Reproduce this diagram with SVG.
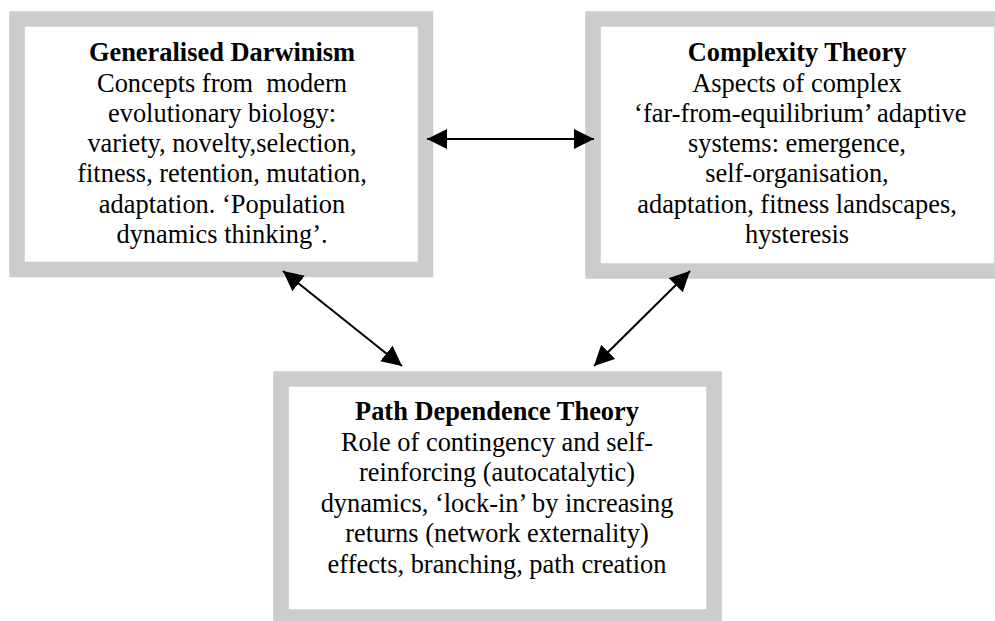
<svg xmlns="http://www.w3.org/2000/svg" width="995" height="621" viewBox="0 0 995 621">
<style>
.box{fill:#ffffff;stroke:#cccccc;stroke-width:15.5}
text{font-family:"Liberation Serif","Times New Roman",serif;font-size:26.4px;fill:#000;text-anchor:middle;white-space:pre}
.t{font-weight:bold}
.c{stroke:#000;stroke-width:2;fill:none;marker-start:url(#ah);marker-end:url(#ah)}
</style>
<defs>
<marker id="ah" markerUnits="userSpaceOnUse" markerWidth="22" markerHeight="22" refX="20" refY="10" orient="auto-start-reverse" viewBox="0 0 22 22">
<path d="M0,0 L20,10 L0,20 Z" fill="#000"/>
</marker>
</defs>
<rect width="995" height="621" fill="#ffffff"/>
<g id="darwinism">
<rect class="box" x="17" y="19" width="408.5" height="250.5"/>
<text x="222" y="61" class="t">Generalised Darwinism</text>
<text x="222" y="91.5">Concepts from  modern</text>
<text x="222" y="121.5">evolutionary biology:</text>
<text x="222" y="152">variety, novelty,selection,</text>
<text x="222" y="182.3">fitness, retention, mutation,</text>
<text x="222" y="212.6">adaptation. ‘Population</text>
<text x="222" y="243">dynamics thinking’.</text>
</g>
<g id="complexity">
<rect class="box" x="593" y="19" width="409" height="252"/>
<text x="797" y="61" class="t">Complexity Theory</text>
<text x="797" y="91.5">Aspects of complex</text>
<text x="797" y="121.5"> ‘far-from-equilibrium’ adaptive</text>
<text x="797" y="152">systems: emergence,</text>
<text x="797" y="182.3">self-organisation,</text>
<text x="797" y="212.6">adaptation, fitness landscapes,</text>
<text x="797" y="243">hysteresis</text>
</g>
<g id="pathdependence">
<rect class="box" x="281" y="379" width="433" height="238"/>
<text x="497" y="420" class="t">Path Dependence Theory</text>
<text x="497" y="450.6">Role of contingency and self-</text>
<text x="497" y="481">reinforcing (autocatalytic)</text>
<text x="497" y="511.6">dynamics, ‘lock-in’ by increasing</text>
<text x="497" y="542">returns (network externality)</text>
<text x="497" y="573">effects, branching, path creation</text>
</g>
<g id="connectors">
<line class="c" x1="427" y1="139" x2="594" y2="139"/>
<line class="c" x1="283" y1="271" x2="402" y2="366"/>
<line class="c" x1="690" y1="271" x2="594" y2="366"/>
</g>
</svg>
